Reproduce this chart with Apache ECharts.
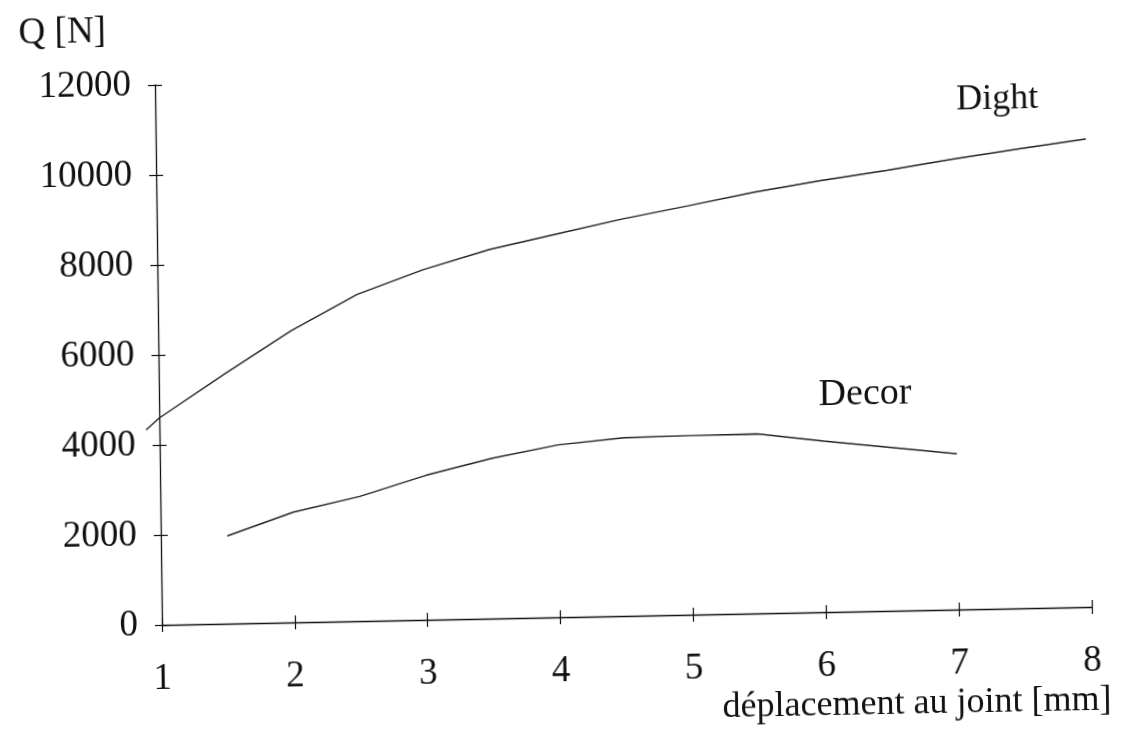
<!DOCTYPE html>
<html>
<head>
<meta charset="utf-8">
<script src="https://cdn.jsdelivr.net/npm/echarts@6/dist/echarts.min.js"></script>
<style>
html,body{margin:0;padding:0;background:#fff;overflow:hidden;width:1122px;height:730px;}
#chart{position:absolute;left:0;top:0;width:1122px;height:780px;
  transform-origin:162px 625px;
  transform:matrix(1,-0.01935,0.01296,1,0,0);}
</style>
</head>
<body>
<div id="chart"></div>
<script>
// Data
const dightX = [0.9, 1, 1.5, 2, 2.5, 3, 3.5, 4, 4.5, 5, 5.5, 6, 6.5, 7, 7.5, 8];
const dightY = [4340, 4600, 5560, 6480, 7260, 7780, 8200, 8510, 8820, 9085, 9360, 9590, 9790, 10010, 10210, 10400];
const decorX = [1.5, 2, 2.5, 3, 3.5, 4, 4.5, 5, 5.5, 6, 7];
const decorY = [1950, 2450, 2770, 3210, 3560, 3830, 3960, 3980, 3990, 3800, 3460];
const xTicks = [1, 2, 3, 4, 5, 6, 7, 8];
const yTicks = [0, 2000, 4000, 6000, 8000, 10000, 12000];
const seriesNames = ['Dight', 'Decor'];
const yAxisTitle = 'Q [N]';
const xAxisTitle = 'déplacement au joint [mm]';

const FONT = "'Liberation Serif', 'Times New Roman', serif";
const INK = '#111';

const chart = echarts.init(document.getElementById('chart'), null, {renderer: 'canvas'});

function pairs(xs, ys) { return xs.map((x, i) => [x, ys[i]]); }

const xMin = xTicks[0], xMax = xTicks[xTicks.length - 1];
const gLeft = 162, gTop = 85, gW = 930, gH = 540;
// second (invisible) grid extended to the left so the Dight curve may start before x = 1
const xMinExt = Math.min.apply(null, dightX);
const extPx = gW / (xMax - xMin) * (xMin - xMinExt);

const xBase = {type: 'value', min: xMin, max: xMax, interval: 1, position: 'bottom', splitLine: {show: false}};
const yBase = {type: 'value', min: yTicks[0], max: yTicks[yTicks.length - 1], interval: 2000, position: 'left', splitLine: {show: false}};
const hidden = {axisLine: {show: false}, axisTick: {show: false}, axisLabel: {show: false}};

chart.setOption({
  animation: false,
  backgroundColor: '#fff',
  grid: [
    {left: gLeft, top: gTop, width: gW, height: gH, containLabel: false},
    {left: gLeft - extPx, top: gTop, width: gW + extPx, height: gH, containLabel: false}
  ],
  xAxis: [
    Object.assign({}, xBase, {
      gridIndex: 0,
      axisLine: {show: true, lineStyle: {color: INK, width: 1.3}},
      axisTick: {show: true, inside: false, length: 7, lineStyle: {color: INK, width: 1.2}},
      axisLabel: {show: true, margin: 36, color: INK, fontFamily: FONT, fontSize: 37}
    }),
    Object.assign({}, xBase, {
      gridIndex: 0,
      axisLine: {show: false},
      axisTick: {show: true, inside: true, length: 7, lineStyle: {color: INK, width: 1.2}},
      axisLabel: {show: false}
    }),
    Object.assign({}, xBase, hidden, {gridIndex: 1, min: xMinExt, interval: null})
  ],
  yAxis: [
    Object.assign({}, yBase, {
      gridIndex: 0,
      axisLine: {show: true, lineStyle: {color: INK, width: 1.3}},
      axisTick: {show: true, inside: false, length: 7, lineStyle: {color: INK, width: 1.2}},
      axisLabel: {show: true, margin: 24, color: INK, fontFamily: FONT, fontSize: 37,
                  formatter: v => String(v)}
    }),
    Object.assign({}, yBase, {
      gridIndex: 0,
      axisLine: {show: false},
      axisTick: {show: true, inside: true, length: 7, lineStyle: {color: INK, width: 1.2}},
      axisLabel: {show: false}
    }),
    Object.assign({}, yBase, hidden, {gridIndex: 1})
  ],
  graphic: [
    {type: 'text', x: 70, y: 31, style: {text: yAxisTitle, font: '37px ' + FONT, fill: INK, align: 'center', verticalAlign: 'middle'}},
    {type: 'text', x: 916, y: 719, style: {text: xAxisTitle, font: '36px ' + FONT, fill: INK, align: 'center', verticalAlign: 'middle'}},
    {type: 'text', x: 1004, y: 116, style: {text: seriesNames[0], font: '36px ' + FONT, fill: INK, align: 'center', verticalAlign: 'middle'}},
    {type: 'text', x: 868, y: 408, style: {text: seriesNames[1], font: '38px ' + FONT, fill: INK, align: 'center', verticalAlign: 'middle'}}
  ],
  series: [
    {name: seriesNames[0], type: 'line', xAxisIndex: 2, yAxisIndex: 2, data: pairs(dightX, dightY),
     showSymbol: false, symbol: 'none', clip: false, lineStyle: {color: '#222', width: 1.4}},
    {name: seriesNames[1], type: 'line', xAxisIndex: 0, yAxisIndex: 0, data: pairs(decorX, decorY),
     showSymbol: false, symbol: 'none', clip: false, lineStyle: {color: '#222', width: 1.4}}
  ]
});
</script>
</body>
</html>
